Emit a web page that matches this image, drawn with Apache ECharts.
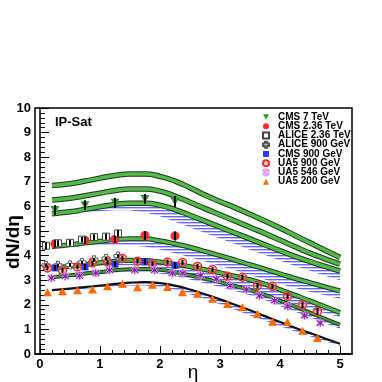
<!DOCTYPE html>
<html>
<head>
<meta charset="utf-8">
<script src="https://cdn.jsdelivr.net/npm/echarts@6/dist/echarts.min.js"></script>
<style>
  html, body { margin: 0; padding: 0; background: #fff; }
  #main { width: 382px; height: 382px; }
</style>
</head>
<body>
<div id="main"></div>
<script>
// 模型曲线 (IP-Sat)
var etaGrid = [0.2, 0.5, 0.75, 1, 1.25, 1.5, 1.75, 2, 2.25, 2.5, 2.75, 3, 3.25, 3.5, 3.75, 4, 4.25, 4.5, 4.75, 5];
var band1 = [6.85, 6.92, 7.03, 7.15, 7.26, 7.32, 7.32, 7.22, 7.03, 6.76, 6.46, 6.2, 5.95, 5.68, 5.41, 5.12, 4.82, 4.52, 4.22, 3.92];
var band2 = [6.26, 6.33, 6.43, 6.54, 6.65, 6.71, 6.71, 6.62, 6.42, 6.17, 5.91, 5.66, 5.41, 5.15, 4.9, 4.63, 4.36, 4.1, 3.87, 3.65];
var band3 = [5.70, 5.78, 5.88, 5.98, 6.08, 6.13, 6.13, 6.05, 5.87, 5.64, 5.40, 5.16, 4.92, 4.68, 4.44, 4.2, 3.97, 3.76, 3.56, 3.37];
var band4 = [4.37, 4.44, 4.51, 4.58, 4.65, 4.69, 4.68, 4.6, 4.48, 4.34, 4.17, 4.0, 3.82, 3.63, 3.45, 3.26, 3.07, 2.9, 2.73, 2.56];
var band5 = [3.5, 3.57, 3.64, 3.71, 3.77, 3.81, 3.8, 3.74, 3.65, 3.55, 3.43, 3.3, 3.16, 3.02, 2.84, 2.62, 2.39, 2.16, 1.92, 1.68];
var band6 = [3.12, 3.2, 3.27, 3.33, 3.4, 3.45, 3.46, 3.42, 3.33, 3.2, 3.06, 2.92, 2.77, 2.6, 2.4, 2.17, 1.93, 1.68, 1.43, 1.18];
var band7 = [2.6, 2.66, 2.72, 2.78, 2.85, 2.9, 2.92, 2.88, 2.78, 2.62, 2.43, 2.22, 2.0, 1.78, 1.54, 1.3, 1.07, 0.85, 0.63, 0.42];

// 蓝色阴影带的下边界
var hatch3Low = [5.66, 5.68, 5.74, 5.8, 5.84, 5.84, 5.76, 5.6, 5.38, 5.15, 4.92, 4.7, 4.47, 4.24, 4.02, 3.8, 3.58, 3.38, 3.18, 3.0];
var hatch4Low = [4.32, 4.36, 4.39, 4.42, 4.44, 4.42, 4.36, 4.25, 4.1, 3.93, 3.76, 3.58, 3.4, 3.21, 3.03, 2.85, 2.68, 2.53, 2.39, 2.25];
var hatch5Low = [3.46, 3.5, 3.55, 3.58, 3.6, 3.6, 3.56, 3.48, 3.37, 3.24, 3.1, 2.95, 2.79, 2.62, 2.43, 2.22, 2.02, 1.84, 1.66, 1.5];
var hatch6Low = [3.08, 3.14, 3.2, 3.25, 3.3, 3.33, 3.32, 3.27, 3.17, 3.03, 2.88, 2.72, 2.56, 2.39, 2.18, 1.95, 1.72, 1.48, 1.25, 1.03];
var hatch7Low = [2.56, 2.6, 2.65, 2.7, 2.75, 2.78, 2.78, 2.72, 2.6, 2.43, 2.23, 2.02, 1.8, 1.58, 1.36, 1.13, 0.92, 0.72, 0.52, 0.34];

// 实验数据
var cms7Eta = [0.25, 0.75, 1.25, 1.75, 2.25];
var cms7 = [5.85, 6.05, 6.15, 6.3, 6.2];
var cms7Err = [0.2, 0.2, 0.2, 0.2, 0.22];
var cms236Eta = [0.25, 0.75, 1.25, 1.75, 2.25];
var cms236 = [4.48, 4.62, 4.66, 4.82, 4.8];
var cms236Err = [0.15, 0.15, 0.15, 0.18, 0.18];
var alice236Eta = [0.1, 0.3, 0.5, 0.7, 0.9, 1.1, 1.3];
var alice236 = [4.4, 4.5, 4.52, 4.65, 4.75, 4.77, 4.9];
var alice236Err = [0.14, 0.12, 0.12, 0.12, 0.12, 0.12, 0.14];
var alice900Eta = [0.1, 0.3, 0.5, 0.7, 0.9, 1.1, 1.3];
var alice900 = [3.6, 3.6, 3.62, 3.72, 3.83, 3.88, 3.98];
var alice900Err = [0.08, 0.08, 0.08, 0.08, 0.08, 0.08, 0.08];
var cms900Eta = [0.25, 0.75, 1.25, 1.75, 2.25];
var cms900 = [3.5, 3.54, 3.65, 3.75, 3.6];
var cms900Err = [0.12, 0.12, 0.12, 0.12, 0.12];
var ua5900Eta = [0.125, 0.375, 0.625, 0.875, 1.125, 1.375, 1.625, 1.875, 2.125, 2.375, 2.625, 2.875, 3.125, 3.375, 3.625, 3.875, 4.125, 4.375, 4.625];
var ua5900 = [3.5, 3.4, 3.54, 3.7, 3.74, 3.88, 3.77, 3.67, 3.74, 3.72, 3.56, 3.43, 3.16, 3.12, 2.78, 2.75, 2.34, 2.0, 1.73];
var ua5900Err = [0.1, 0.1, 0.1, 0.1, 0.1, 0.1, 0.1, 0.1, 0.1, 0.1, 0.1, 0.1, 0.11, 0.11, 0.11, 0.11, 0.12, 0.13, 0.14];
var ua5546Eta = [0.19, 0.42, 0.66, 0.93, 1.16, 1.58, 1.91, 2.21, 2.38, 2.68, 2.94, 3.17, 3.44, 3.66, 3.91, 4.13, 4.41, 4.67];
var ua5546 = [3.09, 3.16, 3.18, 3.29, 3.41, 3.41, 3.41, 3.29, 3.29, 3.2, 3.05, 2.78, 2.62, 2.37, 2.18, 1.94, 1.56, 1.26];
var ua5200Eta = [0.125, 0.375, 0.625, 0.875, 1.125, 1.375, 1.625, 1.875, 2.125, 2.375, 2.625, 2.875, 3.125, 3.375, 3.625, 3.875, 4.125, 4.375, 4.625];
var ua5200 = [2.51, 2.55, 2.59, 2.62, 2.75, 2.86, 2.71, 2.82, 2.72, 2.51, 2.45, 2.25, 2.03, 1.9, 1.63, 1.31, 1.3, 0.95, 0.65];

var xTickLabels = [0, 1, 2, 3, 4, 5];
var legendNames = ['CMS 7 TeV', 'CMS 2.36 TeV', 'ALICE 2.36 TeV', 'ALICE 900 GeV', 'CMS 900 GeV', 'UA5 900 GeV', 'UA5 546 GeV', 'UA5 200 GeV'];

var FONT = 'Liberation Sans, Arial, sans-serif';

// 横线阴影
var pat = document.createElement('canvas');
pat.width = 4; pat.height = 3;
var pctx = pat.getContext('2d');
pctx.fillStyle = '#6464ff';
pctx.fillRect(0, 0, 4, 1);
pctx.fillStyle = '#c4c4ff';
pctx.fillRect(0, 1, 4, 1);
var hatchFill = { image: pat, repeat: 'repeat' };

var xMinor = [];
for (var t = 0; t <= 5.2; t += 0.2) {
	var v = Math.round(t * 10) / 10;
	if (v % 1 !== 0) xMinor.push(v);
}

function pairs(xs, ys) {
	var res = [];
	for (var i = 0; i < xs.length; i++) res.push([xs[i], ys[i]]);
	return res;
}
function triples(xs, ys, es) {
	var res = [];
	for (var i = 0; i < xs.length; i++) res.push([xs[i], ys[i], es[i]]);
	return res;
}

function hatchSeries(upper, lower) {
	return {
		type: 'custom',
		silent: true,
		z: 1,
		data: [[etaGrid[0], upper[0]]],
		encode: { x: 0, y: 1 },
		renderItem: function (params, api) {
			var pts = [];
			for (var i = 0; i < etaGrid.length; i++) pts.push(api.coord([etaGrid[i], upper[i]]));
			for (var j = etaGrid.length - 1; j >= 0; j--) pts.push(api.coord([etaGrid[j], lower[j]]));
			return { type: 'polygon', shape: { points: pts }, style: { fill: hatchFill } };
		}
	};
}

function bandSeries(ys, outer, inner, wOut, wIn) {
	var list = [{
		type: 'line', silent: true, z: 2, smooth: true, showSymbol: false,
		data: pairs(etaGrid, ys),
		lineStyle: { color: outer, width: wOut }
	}];
	if (inner) {
		list.push({
			type: 'line', silent: true, z: 2, smooth: true, showSymbol: false,
			data: pairs(etaGrid, ys),
			lineStyle: { color: inner, width: wIn }
		});
	}
	return list;
}

function errSeries(xs, ys, es) {
	return {
		type: 'custom', silent: true, z: 5,
		data: triples(xs, ys, es),
		encode: { x: 0, y: 1 },
		renderItem: function (params, api) {
			var x = api.value(0), y = api.value(1), e = api.value(2);
			var p1 = api.coord([x, y - e]);
			var p2 = api.coord([x, y + e]);
			return {
				type: 'line',
				shape: { x1: p1[0], y1: p1[1], x2: p2[0], y2: p2[1] },
				style: { stroke: '#000', lineWidth: 2 }
			};
		}
	};
}

var downTri = 'path://M0,0 L10,0 L5,9 Z';
var crossPath = 'path://M3,0 L7,0 L7,3 L10,3 L10,7 L7,7 L7,10 L3,10 L3,7 L0,7 L0,3 L3,3 Z';
var starPath = 'path://M4,0 L6,0 L6,3 L8.5,0.8 L9.9,2.2 L7,5 L9.9,7.8 L8.5,9.2 L6,7 L6,10 L4,10 L4,7 L1.5,9.2 L0.1,7.8 L3,5 L0.1,2.2 L1.5,0.8 L4,3 Z';

var series = [];
series.push(hatchSeries(band3, hatch3Low));
series.push(hatchSeries(band4, hatch4Low));
series.push(hatchSeries(band5, hatch5Low));
series.push(hatchSeries(band6, hatch6Low));
series.push(hatchSeries(band7, hatch7Low));
series = series.concat(
	bandSeries(band1, '#1a3a1a', '#55b84a', 5.5, 3.5),
	bandSeries(band2, '#1a3a1a', '#55b84a', 5.5, 3.5),
	bandSeries(band3, '#1a3a1a', '#55b84a', 5.5, 3.5),
	bandSeries(band4, '#1a3a1a', '#55b84a', 5, 3),
	bandSeries(band5, '#1a3a1a', '#55b84a', 5, 3),
	bandSeries(band6, '#1a3a1a', '#4a9a40', 4, 2),
	bandSeries(band7, '#111', null, 2.2, 0)
);

series.push(errSeries(cms7Eta, cms7, cms7Err));
series.push(errSeries(cms236Eta, cms236, cms236Err));
series.push(errSeries(alice236Eta, alice236, alice236Err));
series.push(errSeries(alice900Eta, alice900, alice900Err));
series.push(errSeries(cms900Eta, cms900, cms900Err));

series.push({
	name: 'CMS 7 TeV', type: 'scatter', z: 4, data: pairs(cms7Eta, cms7),
	symbol: downTri, symbolSize: [9, 8],
	itemStyle: { color: '#2e9a2e', opacity: 1 }
});
series.push({
	name: 'CMS 2.36 TeV', type: 'scatter', z: 4, data: pairs(cms236Eta, cms236),
	symbol: 'circle', symbolSize: 9,
	itemStyle: { color: '#ff2a2a', opacity: 1 }
});
series.push({
	name: 'ALICE 2.36 TeV', type: 'scatter', z: 4, data: pairs(alice236Eta, alice236),
	symbol: 'rect', symbolSize: 7,
	itemStyle: { color: '#fff', borderColor: '#444', borderWidth: 1, opacity: 1 }
});
series.push({
	name: 'ALICE 900 GeV', type: 'scatter', z: 4, data: pairs(alice900Eta, alice900),
	symbol: crossPath, symbolSize: 8,
	itemStyle: { color: '#fff', borderColor: '#555', borderWidth: 1, opacity: 1 }
});
series.push({
	name: 'CMS 900 GeV', type: 'scatter', z: 4, data: pairs(cms900Eta, cms900),
	symbol: 'rect', symbolSize: 7,
	itemStyle: { color: '#2a3cff', opacity: 1 }
});
series.push({
	name: 'UA5 900 GeV', type: 'scatter', z: 4, data: pairs(ua5900Eta, ua5900),
	symbol: 'circle', symbolSize: 8,
	itemStyle: { color: 'rgba(255,120,120,0.35)', borderColor: '#f03030', borderWidth: 1.5, opacity: 1 }
});
series.push({
	name: 'UA5 546 GeV', type: 'scatter', z: 4, data: pairs(ua5546Eta, ua5546),
	symbol: starPath, symbolSize: 8,
	itemStyle: { color: '#8e1cae', borderColor: '#dcaae8', borderWidth: 0.8, opacity: 1 }
});
series.push({
	name: 'UA5 200 GeV', type: 'scatter', z: 4, data: pairs(ua5200Eta, ua5200),
	symbol: 'triangle', symbolSize: [9, 8],
	itemStyle: { color: '#ff6a00', opacity: 1 }
});
series.push(errSeries(ua5900Eta, ua5900, ua5900Err));

var myChart = echarts.init(document.getElementById('main'), null, { renderer: 'canvas' });
var option = {
	animation: false,
	backgroundColor: '#fff',
	textStyle: { fontFamily: FONT },
	title: {
		text: 'IP-Sat', left: 50, top: 111,
		textStyle: { fontFamily: FONT, fontSize: 13, fontWeight: 'bold', color: '#000' }
	},
	legend: {
		data: legendNames,
		orient: 'vertical',
		left: 262, top: 112,
		itemWidth: 6, itemHeight: 6, itemGap: -0.76,
		padding: 0,
		textStyle: { fontFamily: FONT, fontSize: 10, fontWeight: 'bold', color: '#000', padding: [0, 0, 0, 4] }
	},
	grid: {
		left: 35, right: 30, top: 108, bottom: 28,
		outerBoundsMode: 'none',
		containLabel: false,
		show: true, borderColor: '#000', borderWidth: 1.5, backgroundColor: 'transparent'
	},
	xAxis: [{
		type: 'value', min: -0.083, max: 5.2,
		axisLine: { show: true, lineStyle: { color: '#000', width: 1.5 } },
		axisTick: { show: true, inside: true, length: 8, customValues: xTickLabels, lineStyle: { color: '#000', width: 1 } },
		axisLabel: { customValues: xTickLabels, fontFamily: FONT, fontSize: 13, fontWeight: 'bold', color: '#000', margin: 4 },
		splitLine: { show: false }
	}, {
		type: 'value', min: -0.083, max: 5.2, position: 'bottom',
		axisLine: { show: false },
		axisTick: { show: true, inside: true, length: 4, customValues: xMinor, lineStyle: { color: '#000', width: 1 } },
		axisLabel: { show: false },
		splitLine: { show: false }
	}],
	yAxis: {
		type: 'value', min: 0, max: 10, interval: 1,
		axisLine: { show: true, lineStyle: { color: '#000', width: 1.5 } },
		axisTick: { show: true, inside: true, length: 9, lineStyle: { color: '#000', width: 1 } },
		minorTick: { show: true, splitNumber: 5, length: 5, lineStyle: { color: '#000', width: 1 } },
		axisLabel: { fontFamily: FONT, fontSize: 13, fontWeight: 'bold', color: '#000', margin: 4 },
		splitLine: { show: false }
	},
	graphic: [{
		type: 'text', x: 14, y: 242, rotation: Math.PI / 2,
		style: { text: 'dN/dη', fontFamily: FONT, fontSize: 19, fontWeight: 'bold', fill: '#000', align: 'center', verticalAlign: 'middle' }
	}, {
		type: 'text', x: 193, y: 373,
		style: { text: 'η', fontFamily: FONT, fontSize: 19, fill: '#000', align: 'center', verticalAlign: 'middle' }
	}],
	series: series
};
myChart.setOption(option);
</script>
</body>
</html>
